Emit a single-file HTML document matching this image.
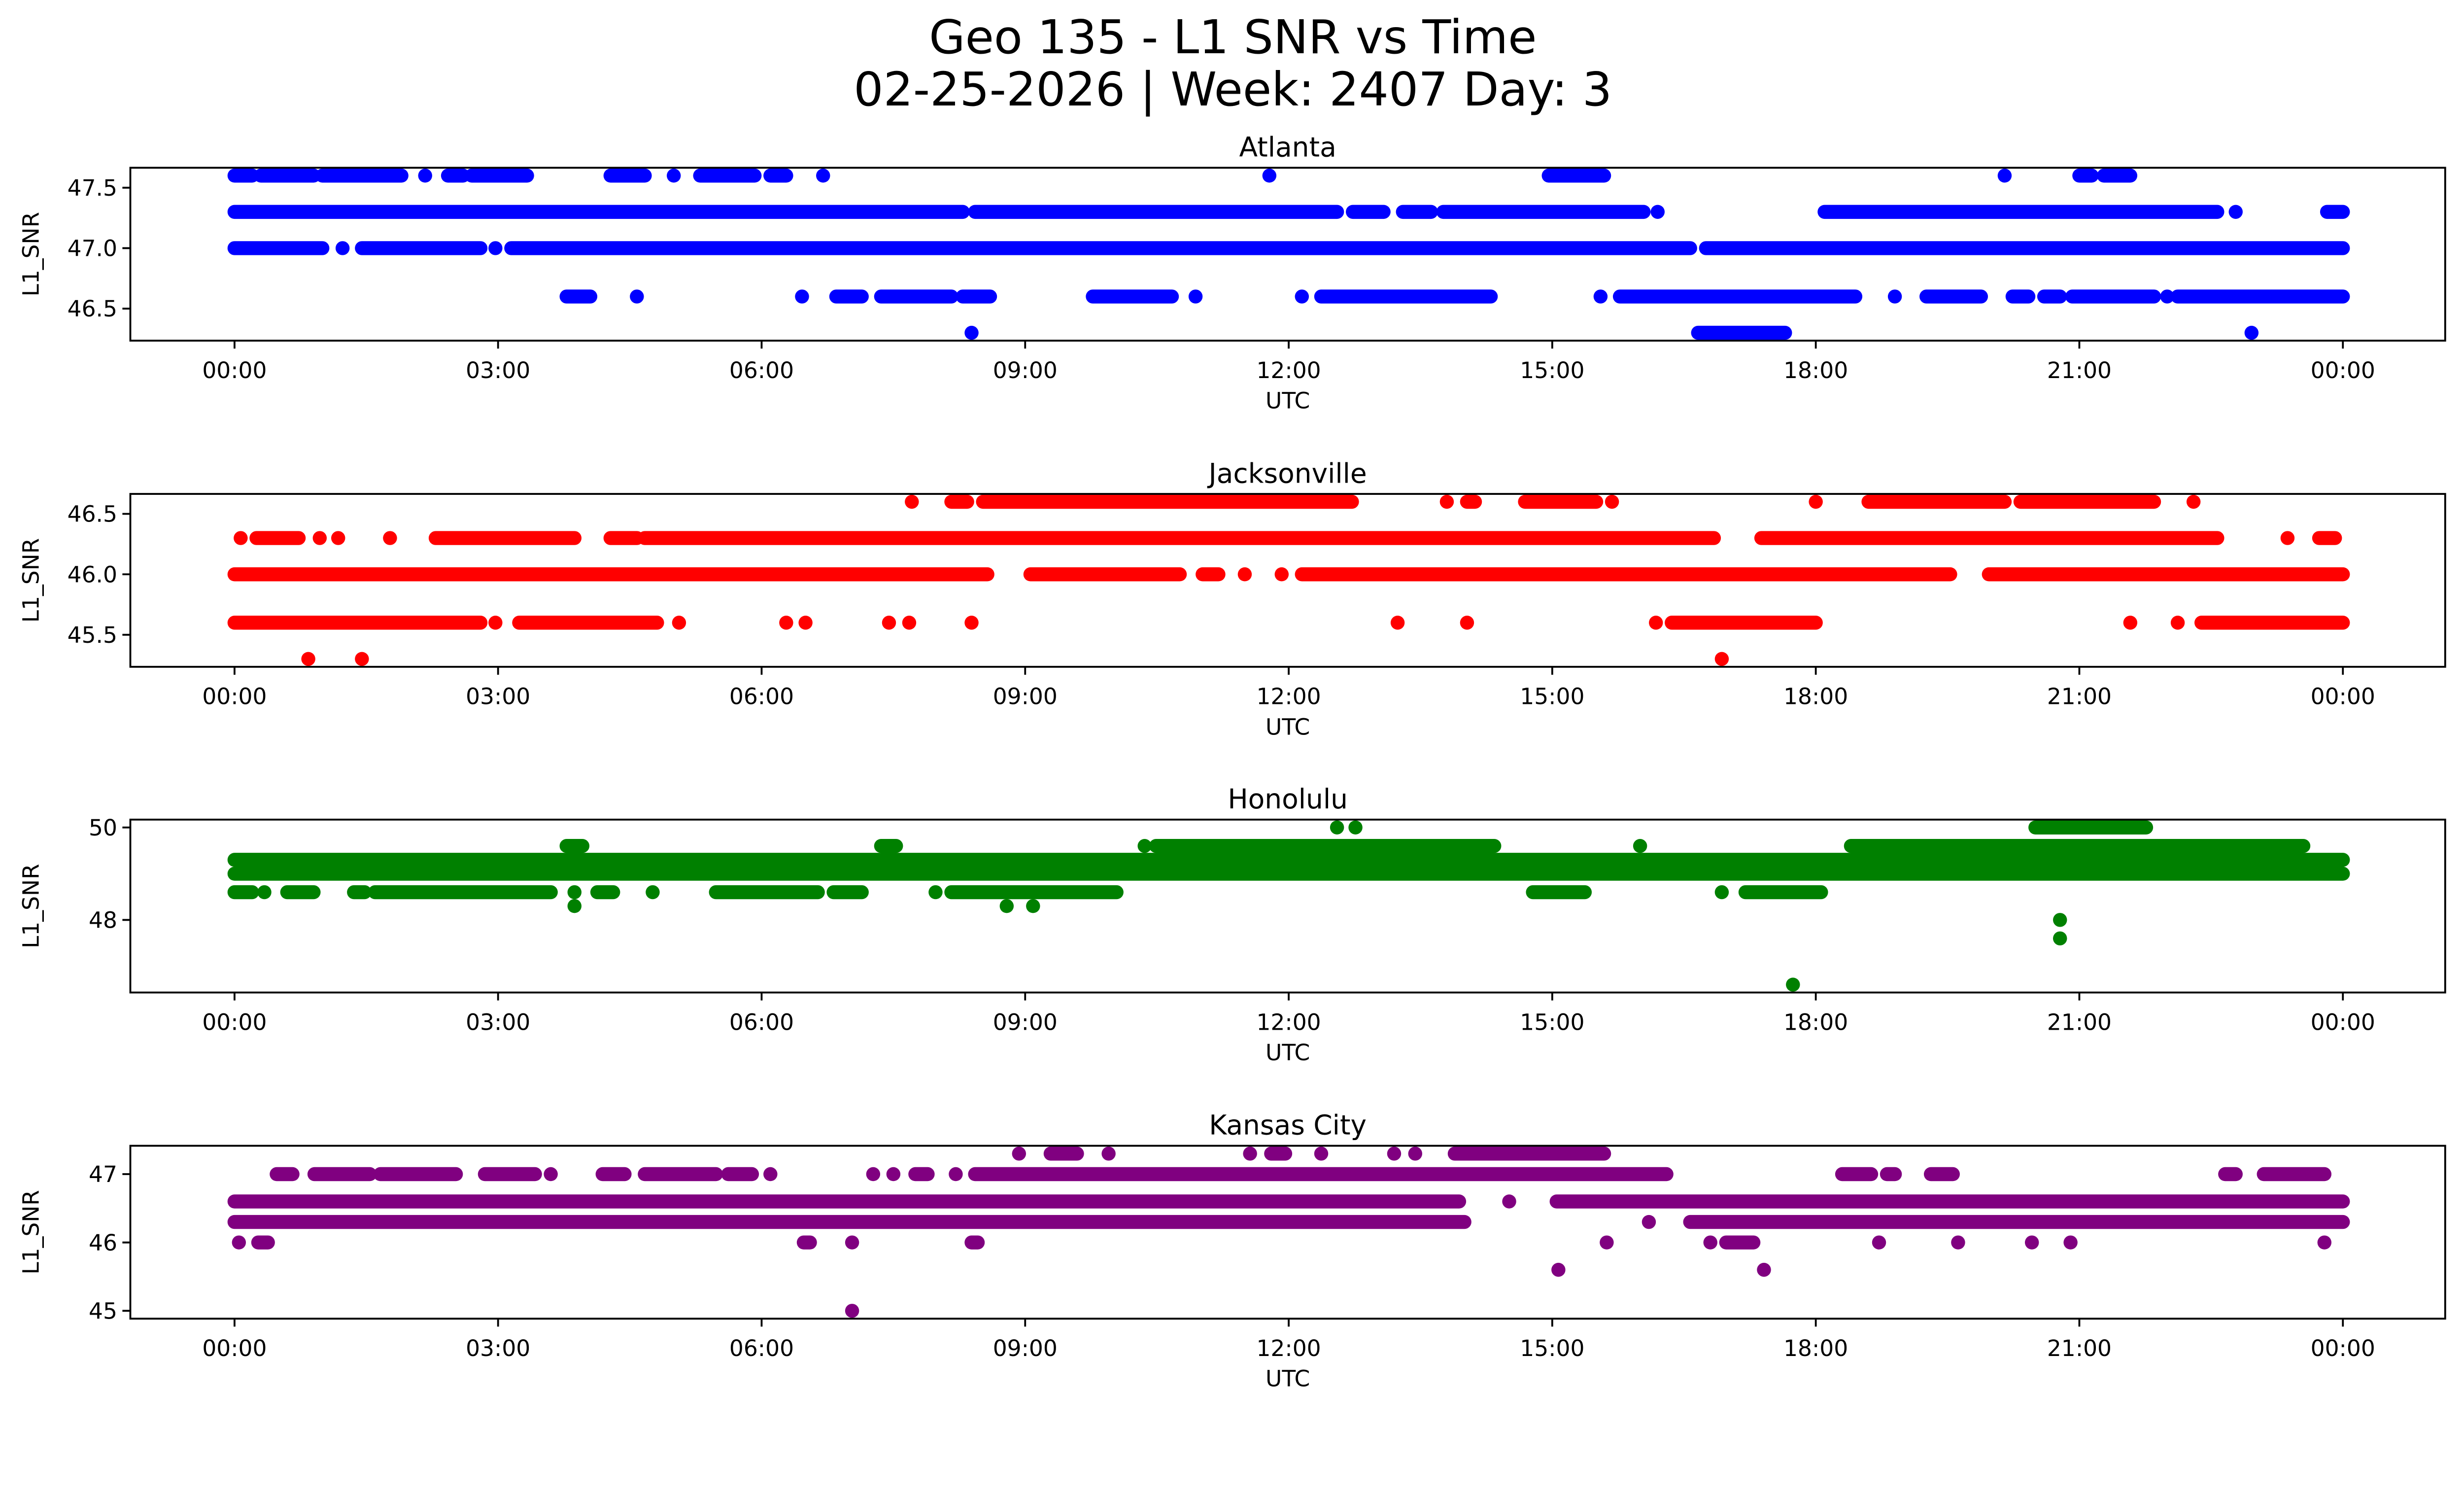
<!DOCTYPE html>
<html><head><meta charset="utf-8"><style>
html,body{margin:0;padding:0;background:#fff;overflow:hidden}
svg{display:block}
text{font-family:"DejaVu Sans","Liberation Sans",sans-serif;fill:#000}
</style></head><body>
<svg id="fig" width="5278" height="3033" viewBox="0 0 5278 3033" xmlns="http://www.w3.org/2000/svg">
<rect width="5278" height="3033" fill="#fff"/>
<g id="root" transform="scale(0.948)">
<text x="2639" y="114" font-size="100" text-anchor="middle">Geo 135 - L1 SNR vs Time</text>
<text x="2639" y="226" font-size="100" text-anchor="middle">02-25-2026 | Week: 2407 Day: 3</text>
</g>
</svg>
<script>
// data: runs of [level, startHour, endHour] (single points have start==end)
const xTickLabels = ["00:00","03:00","06:00","09:00","12:00","15:00","18:00","21:00","00:00"];
const xTickHours = [0,3,6,9,12,15,18,21,24];

const atlantaRuns = [
[47.6,0,0.2],[47.6,0.3,0.9],[47.6,1.0,1.9],[47.6,2.17,2.17],[47.6,2.43,2.6],[47.6,2.7,3.33],[47.6,4.28,4.67],[47.6,5.0,5.0],[47.6,5.3,5.92],[47.6,6.1,6.28],[47.6,6.7,6.7],[47.6,11.78,11.78],[47.6,14.96,15.59],[47.6,20.15,20.15],[47.6,21.0,21.14],[47.6,21.28,21.58],
[47.3,0,8.29],[47.3,8.43,12.55],[47.3,12.73,13.08],[47.3,13.3,13.62],[47.3,13.76,16.04],[47.3,16.2,16.2],[47.3,18.1,22.57],[47.3,22.78,22.78],[47.3,23.82,24],
[47.0,0,1.0],[47.0,1.23,1.23],[47.0,1.45,2.8],[47.0,2.97,2.97],[47.0,3.15,16.57],[47.0,16.75,24],
[46.6,3.78,4.05],[46.6,4.58,4.58],[46.6,6.46,6.46],[46.6,6.85,7.14],[46.6,7.36,8.16],[46.6,8.29,8.6],[46.6,9.77,10.67],[46.6,10.94,10.94],[46.6,12.15,12.15],[46.6,12.37,14.3],[46.6,15.55,15.55],[46.6,15.77,18.45],[46.6,18.9,18.9],[46.6,19.26,19.88],[46.6,20.24,20.42],[46.6,20.6,20.78],[46.6,20.92,21.85],[46.6,22.0,22.0],[46.6,22.12,24],
[46.3,8.39,8.39],[46.3,16.66,17.65],[46.3,22.96,22.96]];
const jacksonvilleRuns = [
[46.6,7.71,7.71],[46.6,8.16,8.34],[46.6,8.52,12.72],[46.6,13.8,13.8],[46.6,14.03,14.12],[46.6,14.69,15.5],[46.6,15.68,15.68],[46.6,18.0,18.0],[46.6,18.6,20.15],[46.6,20.33,21.85],[46.6,22.3,22.3],
[46.3,0.07,0.07],[46.3,0.25,0.73],[46.3,0.97,0.97],[46.3,1.18,1.18],[46.3,1.77,1.77],[46.3,2.29,3.87],[46.3,4.28,4.58],[46.3,4.67,16.84],[46.3,17.38,22.57],[46.3,23.37,23.37],[46.3,23.73,23.91],
[46.0,0,8.57],[46.0,9.06,10.76],[46.0,11.02,11.2],[46.0,11.5,11.5],[46.0,11.92,11.92],[46.0,12.15,19.53],[46.0,19.97,24],
[45.6,0,2.8],[45.6,2.97,2.97],[45.6,3.24,4.81],[45.6,5.06,5.06],[45.6,6.28,6.28],[45.6,6.5,6.5],[45.6,7.45,7.45],[45.6,7.68,7.68],[45.6,8.39,8.39],[45.6,13.24,13.24],[45.6,14.03,14.03],[45.6,16.18,16.18],[45.6,16.36,18.0],[45.6,21.58,21.58],[45.6,22.12,22.12],[45.6,22.39,24],
[45.3,0.84,0.84],[45.3,1.45,1.45],[45.3,16.93,16.93]];
const honoluluRuns = [
[49.3,0,24],[49.0,0,24],
[49.6,3.78,3.96],[49.6,7.36,7.53],[49.6,10.36,10.36],[49.6,10.49,14.34],[49.6,16.0,16.0],[49.6,18.4,23.55],
[50.0,12.55,12.55],[50.0,12.76,12.76],[50.0,20.5,21.76],
[48.6,0,0.2],[48.6,0.34,0.34],[48.6,0.6,0.9],[48.6,1.36,1.48],[48.6,1.6,3.6],[48.6,3.87,3.87],[48.6,4.13,4.31],[48.6,4.76,4.76],[48.6,5.48,6.64],[48.6,6.82,7.14],[48.6,7.98,7.98],[48.6,8.16,10.04],[48.6,14.78,15.37],[48.6,16.93,16.93],[48.6,17.2,18.06],
[48.3,3.87,3.87],[48.3,8.79,8.79],[48.3,9.09,9.09],
[48.0,20.78,20.78],[47.6,20.78,20.78],[46.6,17.74,17.74]];
const kansasRuns = [
[47.3,8.93,8.93],[47.3,9.29,9.59],[47.3,9.95,9.95],[47.3,11.56,11.56],[47.3,11.8,11.96],[47.3,12.37,12.37],[47.3,13.2,13.2],[47.3,13.44,13.44],[47.3,13.89,15.59],
[47.0,0.48,0.66],[47.0,0.91,1.54],[47.0,1.66,2.52],[47.0,2.85,3.42],[47.0,3.6,3.6],[47.0,4.19,4.44],[47.0,4.67,5.48],[47.0,5.62,5.89],[47.0,6.1,6.1],[47.0,7.27,7.27],[47.0,7.5,7.5],[47.0,7.75,7.89],[47.0,8.21,8.21],[47.0,8.43,16.3],[47.0,18.3,18.63],[47.0,18.81,18.9],[47.0,19.31,19.56],[47.0,22.66,22.78],[47.0,23.1,23.79],
[46.6,0,13.94],[46.6,14.51,14.51],[46.6,15.05,24],
[46.3,0,14.0],[46.3,16.1,16.1],[46.3,16.57,24],
[46.0,0.05,0.05],[46.0,0.27,0.38],[46.0,6.48,6.55],[46.0,7.03,7.03],[46.0,8.39,8.46],[46.0,15.62,15.62],[46.0,16.8,16.8],[46.0,16.98,17.29],[46.0,18.72,18.72],[46.0,19.62,19.62],[46.0,20.46,20.46],[46.0,20.9,20.9],[46.0,23.79,23.79],
[45.6,15.07,15.07],[45.6,17.41,17.41],[45.0,7.03,7.03]];

const panelTitles = ["Atlanta","Jacksonville","Honolulu","Kansas City"];
const panelColors = ["#0000ff","#ff0000","#008000","#800080"];
const panelYTicks = [[46.5,47.0,47.5],[45.5,46.0,46.5],[48,50],[45,46,47]];
const panelYTickLabels = [["46.5","47.0","47.5"],["45.5","46.0","46.5"],["48","50"],["45","46","47"]];
const panelYLims = [[46.235,47.665],[45.235,46.665],[46.43,50.17],[44.885,47.415]];
const panelRuns = [atlantaRuns,jacksonvilleRuns,honoluluRuns,kansasRuns];

const NS="http://www.w3.org/2000/svg";
const root=document.getElementById('root');
const L=279,R=5234,H=370,tops=[359,1057,1754,2452];
const X0=502,X1=5015;
function xs(h){return X0+(X1-X0)*h/24;}
function mk(tag,attrs,parent){const e=document.createElementNS(NS,tag);for(const k in attrs)e.setAttribute(k,attrs[k]);(parent||root).appendChild(e);return e;}
const slugs=["atlanta","jacksonville","honolulu","kansas-city"];
panelRuns.forEach((runs,i)=>{
  const T=tops[i],B=T+H,[y0,y1]=panelYLims[i];
  const ys=v=>B-(v-y0)/(y1-y0)*H;
  const g=mk('g',{});
  
  
  const clipId='c'+i;
  const cp=mk('clipPath',{id:clipId},g);mk('rect',{x:L,y:T,width:R-L,height:H},cp);
  const pts=mk('g',{'clip-path':'url(#'+clipId+')'},g);
  
  
  runs.forEach(r=>{
    const ln=mk('line',{x1:xs(r[1]),x2:xs(r[2]),y1:ys(r[0]),y2:ys(r[0]),stroke:panelColors[i],'stroke-width':30,'stroke-linecap':'round'},pts);
    
    
  });
  const fr=mk('rect',{x:L,y:T,width:R-L,height:H,fill:'none',stroke:'#000','stroke-width':4},g);
  
  
  const tt=mk('text',{x:(L+R)/2,y:T-24,'font-size':58,'text-anchor':'middle'},g);tt.textContent=panelTitles[i];
  
  
  xTickHours.forEach((h,k)=>{
    mk('line',{x1:xs(h),x2:xs(h),y1:B,y2:B+17,stroke:'#000','stroke-width':4},g);
    const t=mk('text',{x:xs(h),y:B+80,'font-size':48,'text-anchor':'middle'},g);t.textContent=xTickLabels[k];
    
    
  });
  const xl=mk('text',{x:(L+R)/2,y:B+145,'font-size':48,'text-anchor':'middle'},g);xl.textContent="UTC";
  
  
  panelYTicks[i].forEach((v,k)=>{
    mk('line',{x1:L-17,x2:L,y1:ys(v),y2:ys(v),stroke:'#000','stroke-width':4},g);
    const t=mk('text',{x:L-28,y:ys(v)+17,'font-size':48,'text-anchor':'end'},g);t.textContent=panelYTickLabels[i][k];
    
    
  });
  const yl=mk('text',{x:0,y:0,'font-size':48,'text-anchor':'middle',transform:'translate(83,'+(T+H/2)+') rotate(-90)'},g);yl.textContent="L1_SNR";
  
  
});
</script>
</body></html>
